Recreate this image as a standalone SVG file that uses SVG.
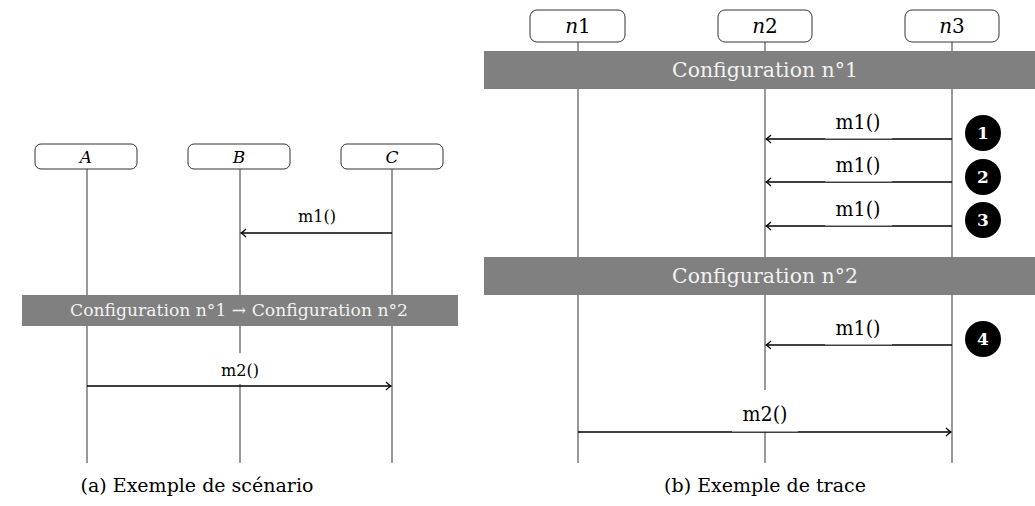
<svg xmlns="http://www.w3.org/2000/svg" width="1035" height="506" viewBox="0 0 1035 506">
<defs>
<marker id="arr" markerUnits="userSpaceOnUse" markerWidth="12" markerHeight="12" viewBox="-10 -6 12 12" refX="0" refY="0" orient="auto">
<path d="M -5 -4 Q -2 -1 0 0 Q -2 1 -5 4" fill="none" stroke="#000" stroke-width="1.2"/>
</marker>
<style>
.box{fill:#fff;stroke:#333;stroke-width:1}
.life{stroke:#555;stroke-width:1.2;fill:none}
.msg{stroke:#000;stroke-width:1.5;fill:none;marker-end:url(#arr)}
.band{fill:#808080}
text{font-family:"DejaVu Serif","Liberation Serif",serif}
.bt{fill:#f2f2f2;text-anchor:middle}
.t{fill:#000;text-anchor:middle}
.it{font-style:italic}
.bg{fill:#fff}
.num{fill:#fff;font-weight:bold;font-size:17px;text-anchor:middle}
</style>
</defs>
<rect width="1035" height="506" fill="#fff"/>

<g id="lifelines-left">
<line class="life" x1="87" y1="169" x2="87" y2="463"/>
<line class="life" x1="240" y1="169" x2="240" y2="463"/>
<line class="life" x1="392" y1="169" x2="392" y2="463"/>
</g>
<g id="A"><rect class="box" x="35" y="144" width="102" height="25" rx="6"/><text class="t it" x="86" y="163" font-size="17">A</text></g>
<g id="B"><rect class="box" x="188" y="144" width="102" height="25" rx="6"/><text class="t it" x="239" y="163" font-size="17">B</text></g>
<g id="C"><rect class="box" x="341" y="144" width="102" height="25" rx="6"/><text class="t it" x="392" y="163" font-size="17">C</text></g>
<g id="band-left">
<rect class="band" x="22" y="295" width="436" height="31"/>
<text class="bt" x="239" y="316" font-size="17" textLength="338" lengthAdjust="spacingAndGlyphs">Configuration n°1 → Configuration n°2</text>
</g>

<g id="lifelines-right">
<line class="life" x1="578" y1="42" x2="578" y2="463"/>
<line class="life" x1="765" y1="42" x2="765" y2="463"/>
<line class="life" x1="952" y1="42" x2="952" y2="463"/>
</g>
<g id="n1"><rect class="box" x="530" y="10" width="95" height="32" rx="7"/><text class="t" x="578" y="33" font-size="20"><tspan font-style="italic">n</tspan>1</text></g>
<g id="n2"><rect class="box" x="718" y="10" width="94" height="32" rx="7"/><text class="t" x="765" y="33" font-size="20"><tspan font-style="italic">n</tspan>2</text></g>
<g id="n3"><rect class="box" x="905" y="10" width="94" height="32" rx="7"/><text class="t" x="952" y="33" font-size="20"><tspan font-style="italic">n</tspan>3</text></g>
<g id="band1">
<rect class="band" x="484" y="51" width="562" height="38"/>
<text class="bt" x="765" y="77" font-size="20" textLength="186" lengthAdjust="spacingAndGlyphs">Configuration n°1</text>
</g>
<g id="band2">
<rect class="band" x="484" y="257" width="562" height="38"/>
<text class="bt" x="765" y="283" font-size="20" textLength="186" lengthAdjust="spacingAndGlyphs">Configuration n°2</text>
</g>

<g id="connectors">
<line class="msg" x1="392" y1="233" x2="241" y2="233"/>
<line class="msg" x1="87" y1="386" x2="391" y2="386"/>
<line class="msg" x1="952" y1="139" x2="766" y2="139"/>
<line class="msg" x1="952" y1="182" x2="766" y2="182"/>
<line class="msg" x1="952" y1="226" x2="766" y2="226"/>
<line class="msg" x1="952" y1="345" x2="766" y2="345"/>
<line class="msg" x1="578" y1="432" x2="951" y2="432"/>
</g>

<g id="labels">
<text class="t" x="317" y="222" font-size="16" textLength="38" lengthAdjust="spacingAndGlyphs">m1()</text>
<rect class="bg" x="219" y="353" width="42" height="31"/>
<text class="t" x="240" y="376" font-size="16" textLength="38" lengthAdjust="spacingAndGlyphs">m2()</text>
<rect class="bg" x="825" y="108" width="67" height="30.5"/>
<text class="t" x="858" y="129" font-size="20" textLength="45" lengthAdjust="spacingAndGlyphs">m1()</text>
<rect class="bg" x="825" y="151" width="67" height="30.5"/>
<text class="t" x="858" y="172" font-size="20" textLength="45" lengthAdjust="spacingAndGlyphs">m1()</text>
<rect class="bg" x="825" y="195" width="67" height="30.5"/>
<text class="t" x="858" y="216" font-size="20" textLength="45" lengthAdjust="spacingAndGlyphs">m1()</text>
<rect class="bg" x="825" y="314" width="67" height="30.5"/>
<text class="t" x="858" y="335" font-size="20" textLength="45" lengthAdjust="spacingAndGlyphs">m1()</text>
<rect class="bg" x="732" y="390" width="66" height="41.5"/>
<text class="t" x="765" y="421" font-size="20" textLength="45" lengthAdjust="spacingAndGlyphs">m2()</text>
</g>

<g id="step1"><circle cx="983" cy="133" r="18" fill="#000"/><text class="num" x="983" y="139">1</text></g>
<g id="step2"><circle cx="983" cy="177" r="18" fill="#000"/><text class="num" x="983" y="183">2</text></g>
<g id="step3"><circle cx="983" cy="220" r="18" fill="#000"/><text class="num" x="983" y="226">3</text></g>
<g id="step4"><circle cx="983" cy="339" r="18" fill="#000"/><text class="num" x="983" y="345">4</text></g>

<g id="captions">
<text class="t" x="197" y="492" font-size="19">(a) Exemple de scénario</text>
<text class="t" x="765" y="492" font-size="19">(b) Exemple de trace</text>
</g>
</svg>
